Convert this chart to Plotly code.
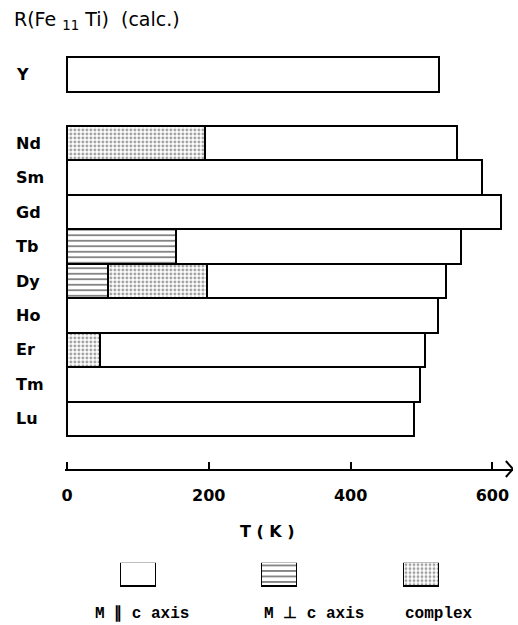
import plotly.graph_objects as go

# ---- data ----
categories = ["Y", "Nd", "Sm", "Gd", "Tb", "Dy", "Ho", "Er", "Tm", "Lu"]
row_pos = [10, 8, 7, 6, 5, 4, 3, 2, 1, 0]          # row index (blank row between Y and Nd)
t_total = [524, 550, 585, 612, 555, 535, 523, 505, 498, 489]   # upper end of each bar (K)
perp_end = [0, 0, 0, 0, 153, 58, 0, 0, 0, 0]       # M perpendicular c axis: 0 .. perp_end
complex_end = [0, 195, 0, 0, 0, 197, 0, 46, 0, 0]  # complex region: perp_end .. complex_end

x_ticks = [0, 200, 400, 600]
legend_labels = ["M \u2225 c axis", "M \u22a5 c axis", "complex"]

perp_len = [p for p in perp_end]
complex_len = [max(c - p, 0) if c > 0 else 0 for p, c in zip(perp_end, complex_end)]
par_len = [t - max(p, c) for t, p, c in zip(t_total, perp_end, complex_end)]

W, H = 518, 625
FONT = "DejaVu Sans"

line_pat = dict(shape="-", size=5.5, solidity=0.32, fgcolor="black", bgcolor="white")
dot_pat = dict(shape=".", size=4, solidity=0.4, fgcolor="#444444", bgcolor="white")

fig = go.Figure()
outline = dict(color="black", width=2.2)
fig.add_trace(go.Bar(y=row_pos, x=perp_len, orientation="h",
                     marker=dict(color="white", line=outline, pattern=line_pat),
                     width=1, showlegend=False, xaxis="x", yaxis="y"))
fig.add_trace(go.Bar(y=row_pos, x=complex_len, orientation="h",
                     marker=dict(color="white", line=outline, pattern=dot_pat),
                     width=1, showlegend=False, xaxis="x", yaxis="y"))
fig.add_trace(go.Bar(y=row_pos, x=par_len, orientation="h",
                     marker=dict(color="white", line=outline),
                     width=1, showlegend=False, xaxis="x", yaxis="y"))

# legend boxes (separate small axis)
leg_line = dict(color="black", width=1.5)
fig.add_trace(go.Bar(x=[0], y=[1], base=0, width=0.25,
                     marker=dict(color="white", line=leg_line),
                     showlegend=False, xaxis="x2", yaxis="y2"))
fig.add_trace(go.Bar(x=[1], y=[1], base=0, width=0.25,
                     marker=dict(color="white", line=leg_line, pattern=line_pat),
                     showlegend=False, xaxis="x2", yaxis="y2"))
fig.add_trace(go.Bar(x=[2], y=[1], base=0, width=0.25,
                     marker=dict(color="white", line=leg_line, pattern=dot_pat),
                     showlegend=False, xaxis="x2", yaxis="y2"))

px_per_k = 0.709
x0_px = 67
xmin, xmax = -3, 629
dom_l = (x0_px + xmin * px_per_k) / W
dom_r = (x0_px + xmax * px_per_k) / W

slot = 34.45
lu_center = 418.8
top_px, bot_px = 40, 469
ymin = -(bot_px - lu_center) / slot
ymax = (lu_center - top_px) / slot

annotations = []
for c, r in zip(categories, row_pos):
    annotations.append(dict(text=c, x=14 / W, xref="paper", xanchor="left",
                            y=r, yref="y", showarrow=False,
                            font=dict(family=FONT, size=16, color="black", weight="bold")))
annotations.append(dict(text="R(Fe <sub>11</sub> Ti)  (calc.)", x=12 / W, xref="paper", xanchor="left",
                        y=1 - 21 / H, yref="paper", yanchor="middle", showarrow=False,
                        font=dict(family=FONT, size=19, color="black")))
annotations.append(dict(text="T ( K )", x=267 / W, xref="paper", xanchor="center",
                        y=1 - 531 / H, yref="paper", yanchor="middle", showarrow=False,
                        font=dict(family=FONT, size=16, color="black", weight="bold")))
leg_x = [93, 262, 403]
for t, lx in zip(legend_labels, leg_x):
    annotations.append(dict(text=t, x=lx / W, xref="paper", xanchor="left",
                            y=1 - 614 / H, yref="paper", yanchor="middle", showarrow=False,
                            font=dict(family="Liberation Mono", size=16, color="black", weight="bold")))

fig.update_layout(
    width=W, height=H, margin=dict(l=0, r=0, t=0, b=0),
    paper_bgcolor="white", plot_bgcolor="white",
    barmode="stack", bargap=0,
    annotations=annotations,
    xaxis=dict(domain=[dom_l, dom_r], range=[xmin, xmax], tickvals=x_ticks,
               ticks="inside", ticklen=7, tickwidth=2, tickcolor="black",
               showline=True, linecolor="black", linewidth=2, showgrid=False, zeroline=False,
               ticklabelstandoff=11, automargin=False,
               tickfont=dict(family=FONT, size=16, color="black", weight="bold"),
               anchor="y"),
    yaxis=dict(domain=[1 - bot_px / H, 1 - top_px / H], range=[ymin, ymax],
               showticklabels=False, ticks="", showline=False, showgrid=False, zeroline=False,
               automargin=False, anchor="x"),
    xaxis2=dict(domain=[0, 1], range=[-138.3 / 141.5, (W - 138.3) / 141.5], visible=False,
                anchor="y2"),
    yaxis2=dict(domain=[1 - 587 / H, 1 - 562.7 / H], range=[0, 1], visible=False, anchor="x2"),
)

# open arrow head ">" at the end of the T axis
fig.add_shape(type="path", xref="x", yref="paper",
              path=f"M {xmax - 10} {1 - 461 / H} L {xmax} {1 - 469 / H} L {xmax - 10} {1 - 477 / H}",
              line=dict(color="black", width=2))

fig.write_html("out.html")
